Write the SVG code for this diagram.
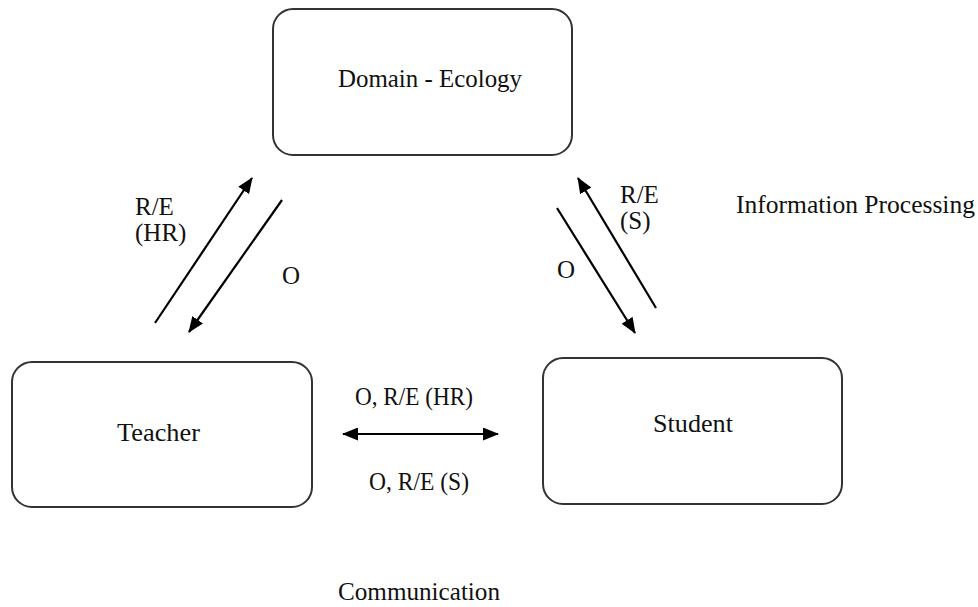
<svg xmlns="http://www.w3.org/2000/svg" width="978" height="607" viewBox="0 0 978 607">
<style>
.box{fill:#fff;stroke:#333;stroke-width:2}
.t{font-family:"Liberation Serif","Times New Roman",serif;font-size:25px;fill:#111}
.c{stroke:#000;stroke-width:2.2;fill:none}
</style>
<defs>
<marker id="ah" viewBox="0 0 16 13" refX="15" refY="6.5" markerWidth="16" markerHeight="13" markerUnits="userSpaceOnUse" orient="auto-start-reverse">
<path d="M0,0 L16,6.5 L0,13 z" fill="#000"/>
</marker>
</defs>
<rect width="978" height="607" fill="#fff"/>
<g id="domain">
<rect class="box" x="273" y="9" width="299" height="146" rx="20"/>
<text class="t" x="338" y="87" textLength="184" lengthAdjust="spacingAndGlyphs">Domain - Ecology</text>
</g>
<g id="teacher">
<rect class="box" x="12" y="362" width="300" height="145" rx="20"/>
<text class="t" x="117" y="441" textLength="83" lengthAdjust="spacingAndGlyphs">Teacher</text>
</g>
<g id="student">
<rect class="box" x="543" y="358" width="299" height="146" rx="20"/>
<text class="t" x="653" y="432" textLength="80" lengthAdjust="spacingAndGlyphs">Student</text>
</g>
<g id="connectors">
<line class="c" x1="155" y1="323" x2="252" y2="178" marker-end="url(#ah)"/>
<line class="c" x1="282" y1="200" x2="189" y2="332" marker-end="url(#ah)"/>
<line class="c" x1="656" y1="308" x2="578" y2="178" marker-end="url(#ah)"/>
<line class="c" x1="557" y1="208" x2="635" y2="333" marker-end="url(#ah)"/>
<line class="c" x1="343" y1="434" x2="498" y2="434" marker-start="url(#ah)" marker-end="url(#ah)"/>
</g>
<g id="labels">
<text class="t" x="135" y="215">R/E</text>
<text class="t" x="135" y="241">(HR)</text>
<text class="t" x="282" y="284">O</text>
<text class="t" x="620" y="203">R/E</text>
<text class="t" x="620" y="229">(S)</text>
<text class="t" x="557" y="278">O</text>
<text class="t" x="355" y="405" textLength="118" lengthAdjust="spacingAndGlyphs">O, R/E (HR)</text>
<text class="t" x="369" y="490" textLength="100" lengthAdjust="spacingAndGlyphs">O, R/E (S)</text>
<text class="t" x="736" y="213" textLength="239" lengthAdjust="spacingAndGlyphs">Information Processing</text>
<text class="t" x="338" y="600" textLength="162" lengthAdjust="spacingAndGlyphs">Communication</text>
</g>
</svg>
